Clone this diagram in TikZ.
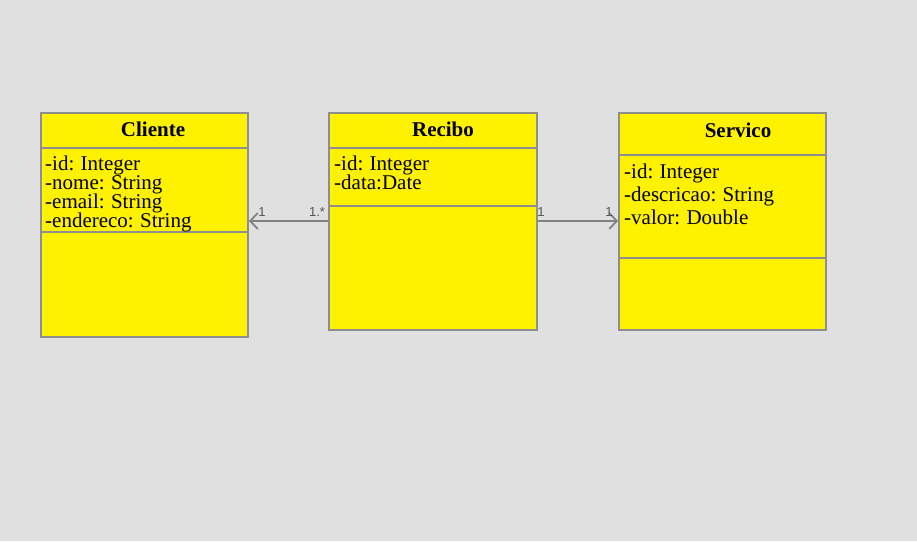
\documentclass[tikz,border=0pt]{standalone}
\usepackage{fontspec}
\setmainfont{Liberation Serif}
\newfontfamily\labfont{Liberation Sans}
\usetikzlibrary{arrows.meta}
\definecolor{bgc}{HTML}{E0E0E0}
\definecolor{boxy}{HTML}{FFF200}
\definecolor{edgec}{HTML}{8E8E8E}
\definecolor{linec}{HTML}{828282}
\definecolor{labc}{HTML}{555555}
\newcommand{\myattrfont}{\fontsize{21}{21}\selectfont\spaceskip=4.6pt\relax}
\begin{document}
\begin{tikzpicture}[x=1pt,y=-1pt,
  classbox/.style={draw=edgec,fill=boxy,line width=2pt,anchor=north west,inner sep=0pt,minimum width=207pt},
  divline/.style={draw=edgec,line width=2pt},
  ttl/.style={anchor=base,inner sep=0pt,font=\fontsize{21}{21}\selectfont\bfseries},
  attr/.style={anchor=base west,inner sep=0pt,font=\myattrfont},
  mult/.style={anchor=base,inner sep=0pt,font=\labfont\fontsize{13}{13}\selectfont,text=labc},
  assoc/.style={draw=linec,line width=2pt,-{Straight Barb[length=7.5pt,width=16pt,line width=1.8pt]}}]
\useasboundingbox[fill=bgc] (0,0) rectangle (917,541);
% boxes
\node[classbox,minimum height=224pt] (cliente) at (40,112) {};
\node[classbox,minimum width=208pt,minimum height=217pt] (recibo) at (328,112) {};
\node[classbox,minimum height=217pt] (servico) at (618,112) {};
% dividers
\draw[divline] (cliente.west |- 0,148) -- (cliente.east |- 0,148);
\draw[divline] (cliente.west |- 0,232) -- (cliente.east |- 0,232);
\draw[divline] (recibo.west |- 0,148) -- (recibo.east |- 0,148);
\draw[divline] (recibo.west |- 0,206) -- (recibo.east |- 0,206);
\draw[divline] (servico.west |- 0,155) -- (servico.east |- 0,155);
\draw[divline] (servico.west |- 0,258) -- (servico.east |- 0,258);
% titles
\node[ttl] (tcli) at (153,136) {Cliente};
\node[ttl] (trec) at (443,136) {Recibo};
\node[ttl] (tser) at (738,137) {Servico};
% attributes
\node[attr] (a1) at (45,170) {-id: Integer};
\node[attr] (a2) at (45,189) {-nome: String};
\node[attr] (a3) at (45,208) {-email: String};
\node[attr] (a4) at (45,227) {-endereco: String};
\node[attr] (b1) at (334,170) {-id: Integer};
\node[attr] (b2) at (334,189) {-data:Date};
\node[attr] (c1) at (624,178) {-id: Integer};
\node[attr] (c2) at (624,201) {-descricao: String};
\node[attr] (c3) at (624,224) {-valor: Double};
% connectors
\coordinate (rw) at (recibo.west |- 0,221);
\coordinate (ce) at (cliente.east |- 0,221);
\coordinate (re) at (recibo.east |- 0,221);
\coordinate (sw) at (servico.west |- 0,221);
\draw[assoc] (rw) -- (ce);
\draw[assoc] (re) -- (sw);
% multiplicities
\node[mult] (m1) at (262,216) {1};
\node[mult] (m2) at (317,216) {1.*};
\node[mult] (m3) at (541,216) {1};
\node[mult] (m4) at (609,216) {1};
\end{tikzpicture}
\end{document}
